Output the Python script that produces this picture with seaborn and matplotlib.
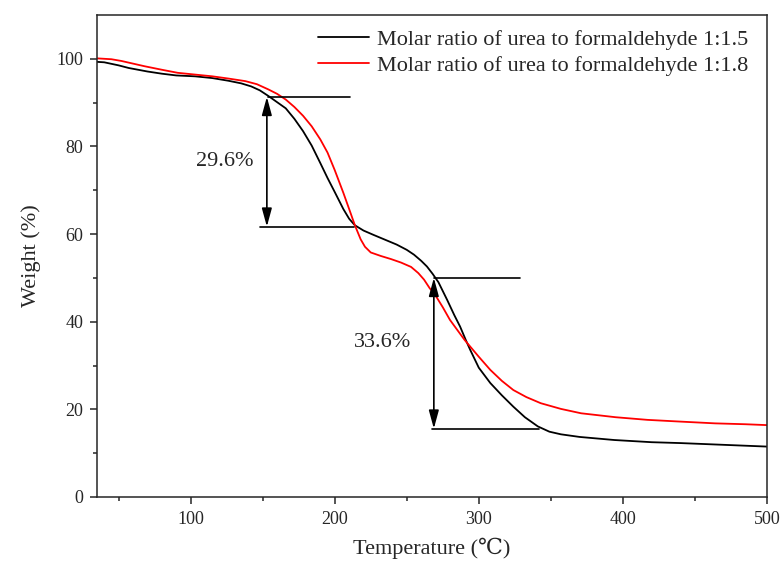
import pandas as pd
import matplotlib.pyplot as plt
import seaborn as sns
from matplotlib.ticker import MultipleLocator

# TGA curves
temp_15 = [35, 40, 50, 57, 70, 80, 90, 103, 115, 126, 135, 142, 148, 154, 160, 166,
           172, 178, 184, 190, 195, 200, 206, 210, 214, 220, 227, 235, 243, 250, 255,
           260, 264, 268, 272, 278, 283, 287, 291, 294, 300, 308, 316, 324, 332, 341,
           349, 357, 370, 394, 420, 440, 470, 500]
weight_15 = [99.3, 99.2, 98.5, 97.9, 97.1, 96.6, 96.2, 96.0, 95.6, 95.0, 94.4, 93.7,
             92.8, 91.5, 90.1, 88.7, 86.3, 83.5, 80.2, 76.2, 72.8, 69.6, 65.7, 63.5,
             62.0, 60.8, 59.8, 58.7, 57.6, 56.4, 55.3, 53.9, 52.6, 50.9, 49.0, 45.0,
             41.5, 38.9, 35.8, 33.6, 29.5, 26.0, 23.2, 20.6, 18.2, 16.1, 14.9, 14.3,
             13.7, 13.0, 12.5, 12.3, 11.9, 11.5]

temp_18 = [35, 45, 52, 60, 68, 80, 91, 103, 115, 126, 138, 146, 154, 160, 166, 172,
           178, 184, 190, 195, 200, 206, 211, 214, 218, 221, 225, 232, 239, 246, 253,
           258, 262, 266, 269, 275, 280, 290, 300, 308, 316, 324, 333, 343, 357, 371,
           395, 417, 440, 464, 485, 500]
weight_18 = [100.1, 99.9, 99.5, 98.9, 98.3, 97.5, 96.8, 96.4, 96.0, 95.5, 94.9, 94.2,
             93.0, 92.0, 90.7, 89.0, 87.0, 84.6, 81.6, 78.6, 74.6, 69.4, 64.8, 62.0,
             58.8, 57.1, 55.8, 55.0, 54.3, 53.5, 52.5, 51.1, 49.6, 47.6, 46.5, 43.3,
             40.4, 35.9, 32.0, 29.0, 26.5, 24.4, 22.8, 21.4, 20.1, 19.1, 18.2, 17.6,
             17.2, 16.8, 16.6, 16.4]

labels = ['Molar ratio of urea to formaldehyde 1:1.5',
          'Molar ratio of urea to formaldehyde 1:1.8']

# weight-loss steps
step_x = [152.9, 268.8]
step_top = [91.3, 50.0]
step_bottom = [61.7, 15.6]
top_span = [(153.8, 210.4), (268.8, 328.8)]
bottom_span = [(148.2, 213.6), (267.2, 341.8)]
step_text = ['29.6%', '33.6%']
text_pos = [(124, 76.5), (233, 35.2)]

df = pd.concat([
    pd.DataFrame({'Temperature': temp_15, 'Weight': weight_15, 'Sample': labels[0]}),
    pd.DataFrame({'Temperature': temp_18, 'Weight': weight_18, 'Sample': labels[1]}),
])

sns.set_style('ticks')
plt.rcParams['font.family'] = ['Liberation Serif', 'DejaVu Serif', 'Noto Sans CJK SC']

fig = plt.figure(figsize=(7.81, 5.65), dpi=100)
ax = fig.add_axes([0.1242, 0.1204, 0.982 - 0.1242, 0.9735 - 0.1204])

sns.lineplot(data=df, x='Temperature', y='Weight', hue='Sample',
             palette=['black', 'red'], sort=False, linewidth=1.3, ax=ax)

for i in range(2):
    ax.plot(top_span[i], [step_top[i]] * 2, color='black', lw=1.2)
    ax.plot(bottom_span[i], [step_bottom[i]] * 2, color='black', lw=1.2)
    ax.annotate('', xy=(step_x[i], step_bottom[i]), xytext=(step_x[i], step_top[i]),
                arrowprops=dict(arrowstyle='<|-|>,head_length=0.55,head_width=0.15',
                                color='black', lw=1.2, mutation_scale=20,
                                shrinkA=0, shrinkB=0))
    ax.text(text_pos[i][0], text_pos[i][1], step_text[i], fontsize=16,
            ha='center', va='center')

ax.set_xlim(35, 500)
ax.set_ylim(0, 110)
ax.xaxis.set_major_locator(MultipleLocator(100))
ax.xaxis.set_minor_locator(MultipleLocator(50))
ax.set_yticks(range(0, 101, 20))
ax.set_yticks(range(10, 100, 20), minor=True)
ax.tick_params(which='major', direction='out', length=5, width=1.1, labelsize=13, pad=5)
ax.tick_params(which='minor', direction='out', length=3, width=1.1)
for s in ax.spines.values():
    s.set_linewidth(1.1)
    s.set_visible(True)

ax.set_xlabel('Temperature (\u2103)', fontsize=16, labelpad=7)
ax.set_ylabel('Weight (%)', fontsize=16, labelpad=11)

ax.legend(loc='upper right', frameon=False, fontsize=16, handlelength=2.3,
          handletextpad=0.35, labelspacing=0.25, borderaxespad=0.25,
          bbox_to_anchor=(0.994, 1.0))

fig.savefig('out.png', dpi=100)
